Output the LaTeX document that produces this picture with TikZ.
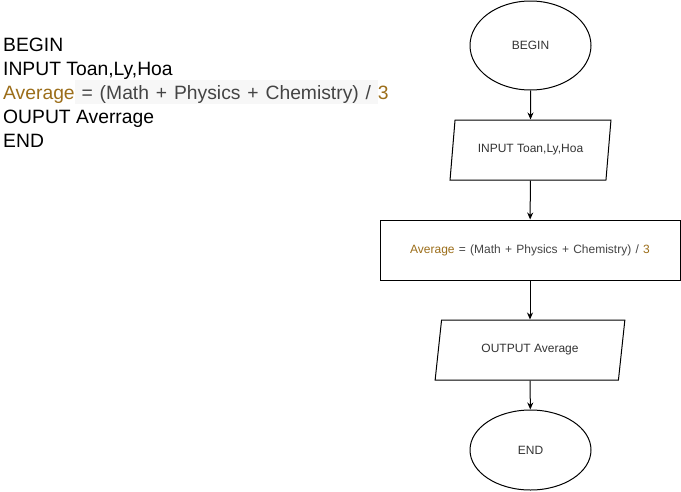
\documentclass[tikz,border=0pt]{standalone}
\usepackage{fontspec}
\setmainfont{Liberation Sans}
\usepackage{tikz}
\usetikzlibrary{positioning, shapes.geometric, arrows.meta}
\definecolor{avggold}{HTML}{9C6E1A}
\definecolor{codegray}{HTML}{444444}
\definecolor{codebg}{HTML}{F7F7F7}
\definecolor{boxtext}{HTML}{333333}
\tikzset{
	codeline/.style={
			anchor=base west,
			inner sep=0pt,
			text=black,
			font=\fontsize{19.3}{24}\selectfont
		},
	termnode/.style={
			ellipse,
			draw=black,
			line width=1pt,
			fill=white,
			minimum width=121pt,
			inner sep=0pt,
			text=boxtext,
			font=\fontsize{12}{14}\selectfont
		},
	ionode/.style={
			trapezium,
			trapezium left angle=72,
			trapezium right angle=108,
			trapezium stretches=true,
			draw=black,
			line width=1pt,
			fill=white,
			minimum height=60pt,
			inner sep=0pt,
			text=boxtext,
			font=\fontsize{12}{14}\selectfont
		},
	processnode/.style={
			rectangle,
			draw=black,
			line width=1pt,
			fill=white,
			minimum width=300pt,
			minimum height=60pt,
			inner sep=0pt,
			text=boxtext,
			font=\fontsize{12}{14}\selectfont
		}
}
\newcommand{\avgformula}{\spaceskip=0.356em plus 0.1em minus 0.1em
	{\color{avggold}Average} {\color{codegray}= (Math + Physics + Chemistry) /} {\color{avggold}3}}

\begin{document}
\begin{tikzpicture}[x=1pt, y=-1pt, >={Stealth[length=7pt,width=6pt]}]
\useasboundingbox (0,0) rectangle (681,491);

% pseudo code
\fill[codebg] (75,80) rectangle (378,104);
\node[codeline] (c1) at (3,51.7)  {BEGIN};
\node[codeline] (c2) at (3,75.7)  {INPUT Toan,Ly,Hoa};
\node[codeline] (c3) at (3,99.6)  {\avgformula};
\node[codeline] (c4) at (3,123.5) {OUPUT Averrage};
\node[codeline] (c5) at (3,147.5) {END};

% flowchart
\node[termnode, minimum height=89pt] (f1) at (530.5,45.5) {BEGIN};
\node[ionode, minimum width=161pt] (f2) at (530.5,150) {INPUT Toan,Ly,Hoa};
\node[processnode] (f3) at (530,250) {\avgformula};
\node[ionode, minimum width=190pt] (f4) at (530,350) {OUTPUT Average};
\node[termnode, minimum height=80pt] (f5) at (530.5,450) {END};

\draw[line width=1pt, ->] (f1) -- (f2);
\draw[line width=1pt, ->] (f2) -- (f3);
\draw[line width=1pt, ->] (f3) -- (f4);
\draw[line width=1pt, ->] (f4) -- (f5);
\end{tikzpicture}
\end{document}
